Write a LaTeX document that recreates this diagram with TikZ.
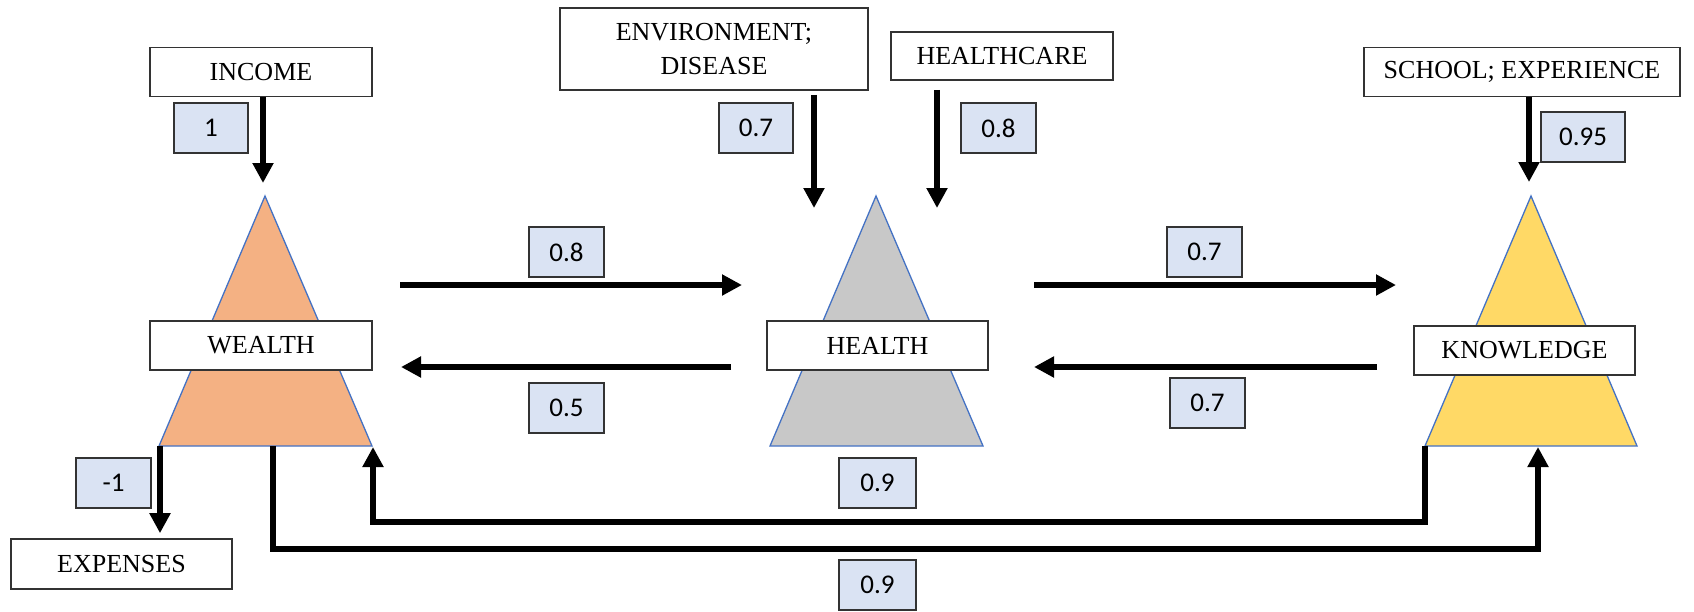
\documentclass[tikz,border=0pt]{standalone}
\usepackage{fontspec}
\setmainfont{Liberation Serif}
\newfontfamily\numfont{Carlito}
\usetikzlibrary{arrows.meta,calc}

\definecolor{wealthfill}{HTML}{F4B183}
\definecolor{healthfill}{HTML}{C8C8C8}
\definecolor{knowfill}{HTML}{FFD966}
\definecolor{triedge}{HTML}{4472C4}
\definecolor{valfill}{HTML}{DAE3F3}
\definecolor{boxedge}{HTML}{333333}

\tikzset{
  labelbox/.style={draw=boxedge, line width=1.6pt, fill=white, inner sep=0pt,
    minimum height=49pt, font=\fontsize{26}{34}\selectfont, align=center},
  valbox/.style={draw=boxedge, line width=1.6pt, fill=valfill, inner sep=0pt,
    minimum width=75pt, minimum height=50pt, font=\numfont\fontsize{27}{30}\selectfont},
  flow/.style={line width=6pt, line join=miter, -{Triangle[length=20pt,width=20pt]}},
  tri/.style={draw=triedge, line width=1.3pt},
}

\begin{document}
\begin{tikzpicture}[x=1pt,y=-1pt]
\useasboundingbox[fill=white] (0,0) rectangle (1694,611);

% --- pyramids ---
\coordinate (wA) at (265,196); \coordinate (wL) at (159,446); \coordinate (wR) at (372,446);
\coordinate (hA) at (876,196); \coordinate (hL) at (770,446); \coordinate (hR) at (983,446);
\coordinate (kA) at (1531,196); \coordinate (kL) at (1425,446); \coordinate (kR) at (1637,446);
\filldraw[tri, fill=wealthfill] (wA) -- (wL) -- (wR) -- cycle;
\filldraw[tri, fill=healthfill] (hA) -- (hL) -- (hR) -- cycle;
\filldraw[tri, fill=knowfill]   (kA) -- (kL) -- (kR) -- cycle;

% --- label boxes ---
\node[labelbox, minimum width=222pt] (income)     at (261,72)    {INCOME};
\node[labelbox, minimum width=308pt, minimum height=82pt] (env) at (714,49) {ENVIRONMENT;\\DISEASE};
\node[labelbox, minimum width=222pt, minimum height=48pt] (healthcare) at (1002,56) {HEALTHCARE};
\node[labelbox, minimum width=316pt] (school)     at (1522,72)   {SCHOOL; EXPERIENCE};
\node[labelbox, minimum width=222pt] (wealth)     at (261,345.5) {WEALTH};
\node[labelbox, minimum width=221pt] (health)     at (877.5,345.5) {HEALTH};
\node[labelbox, minimum width=221pt] (knowledge)  at (1524.5,350.5) {KNOWLEDGE};
\node[labelbox, minimum width=221pt, minimum height=50pt] (expenses) at (121.5,564) {EXPENSES};

% --- weights ---
\node[valbox, minimum width=74pt] (wIncome) at (211,128)    {1};
\node[valbox, minimum width=74pt] (wEnv)    at (756,128)    {0.7};
\node[valbox] (wCare)    at (998.5,128)  {0.8};
\node[valbox, minimum width=84pt] (wSchool) at (1583,137) {0.95};
\node[valbox] (wWH)      at (566.5,252)  {0.8};
\node[valbox] (wHW)      at (566.5,408)  {0.5};
\node[valbox] (wHK)      at (1204.5,252) {0.7};
\node[valbox] (wKH)      at (1207.5,403) {0.7};
\node[valbox] (wExp)     at (113.5,483)  {-1};
\node[valbox, minimum width=77pt] (wKW) at (877.5,483) {0.9};
\node[valbox, minimum width=77pt] (wWK) at (877.5,585) {0.9};

% --- inputs from above ---
\coordinate (iTip) at (263,183);
\coordinate (eTip) at (814,208);
\coordinate (cTip) at (937,208);
\coordinate (sTip) at (1529,182);
\draw[flow] (income.south -| iTip) -- (iTip);
\draw[flow] ($(env.south -| eTip)+(0,4)$) -- (eTip);
\draw[flow] ($(healthcare.south -| cTip)+(0,9)$) -- (cTip);
\draw[flow] (school.south -| sTip) -- (sTip);

% --- exchanges between pyramids ---
\coordinate (whS) at (400,285);  \coordinate (whE) at (742,285);
\coordinate (hwS) at (731,367);  \coordinate (hwE) at (401,367);
\coordinate (hkS) at (1034,285); \coordinate (hkE) at (1396,285);
\coordinate (khS) at (1377,367); \coordinate (khE) at (1034,367);
\draw[flow] (whS) -- (whE);
\draw[flow] (hwS) -- (hwE);
\draw[flow] (hkS) -- (hkE);
\draw[flow] (khS) -- (khE);

% --- outflow to expenses ---
\coordinate (xS) at (160,446);
\draw[flow] (xS) -- ($(expenses.north -| xS)+(0,-5)$);

% --- loops under the pyramids ---
\coordinate (wOut) at (273,446);
\coordinate (kIn)  at (1538,447);
\coordinate (wIn)  at (373,447);
\draw[flow] (kL) -- ++(0,76) -| (wIn);
\draw[flow] (wOut) -- ++(0,103) -| (kIn);
\end{tikzpicture}
\end{document}
